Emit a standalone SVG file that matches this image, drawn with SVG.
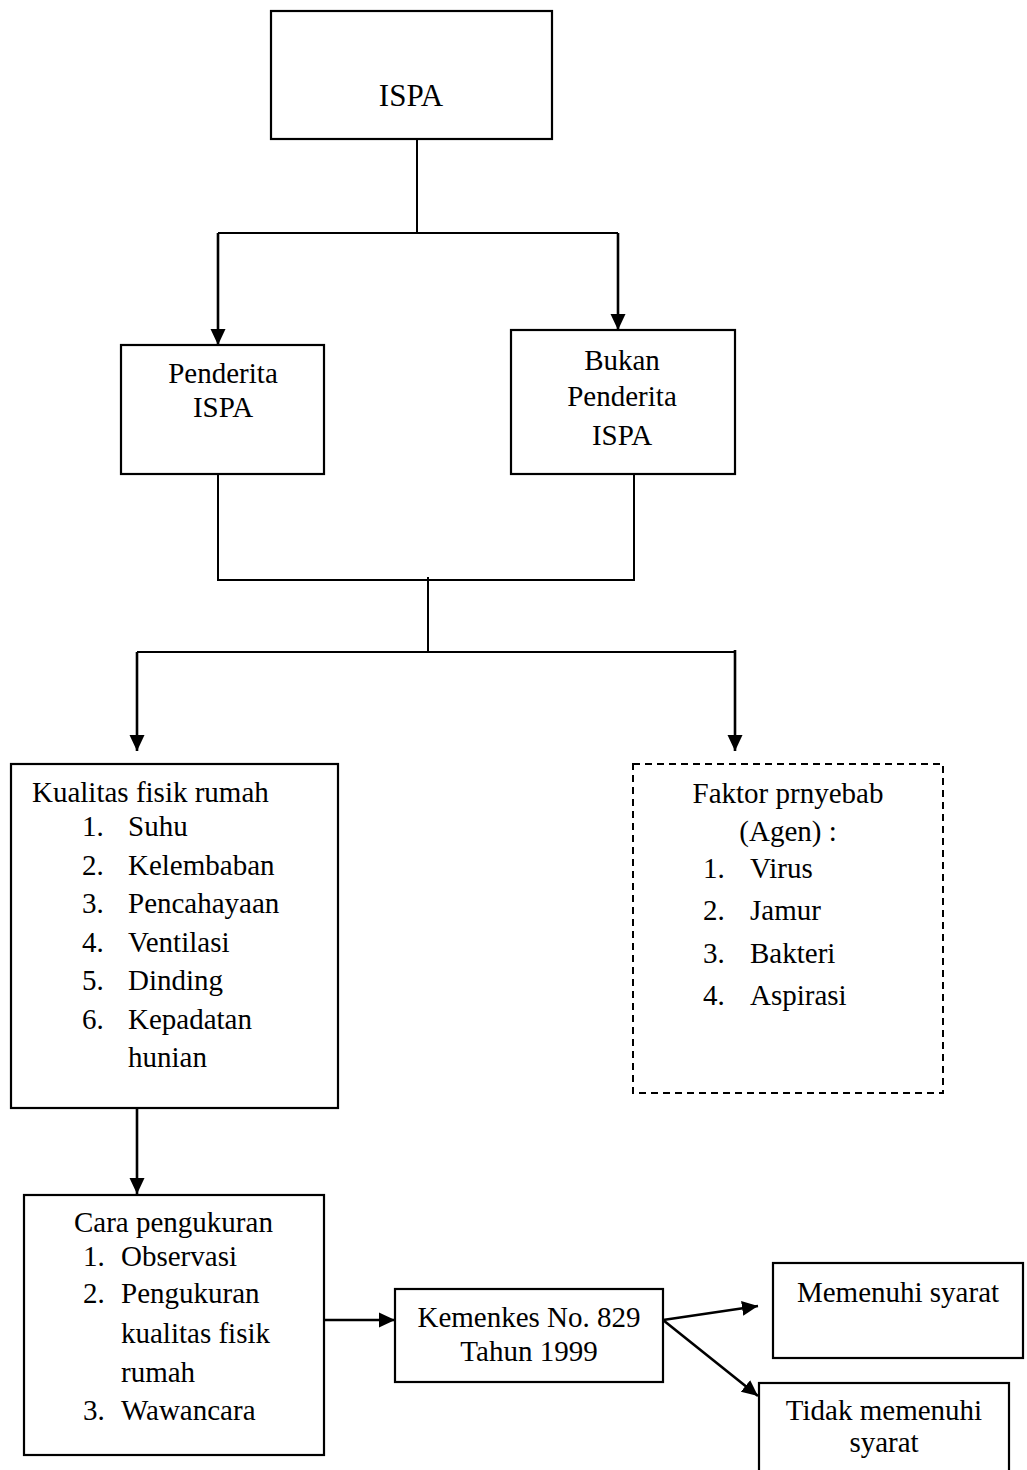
<svg xmlns="http://www.w3.org/2000/svg" width="1027" height="1470" viewBox="0 0 1027 1470">
<style>
  text { font-family: "Liberation Serif", "Times New Roman", serif; font-size: 29px; fill: #000; }
  .c { text-anchor: middle; }
  .box { fill: #fff; stroke: #000; stroke-width: 2.2; }
  .dash { fill: #fff; stroke: #000; stroke-width: 2; stroke-dasharray: 7 5; }
  .ln { fill: none; stroke: #000; stroke-width: 2; }
  .ar { fill: none; stroke: #000; stroke-width: 2.6; marker-end: url(#ah); }
</style>
<defs>
  <marker id="ah" markerUnits="userSpaceOnUse" markerWidth="18" markerHeight="18" viewBox="0 0 18 18" refX="16" refY="9" orient="auto">
    <path d="M0,1.5 L16,9 L0,16.5 Z" fill="#000"/>
  </marker>
</defs>
<rect width="1027" height="1470" fill="#fff"/>

<g id="connectors">
  <path class="ln" d="M417,139 V233 M218,233 H618"/>
  <path class="ar" d="M218,233 V345"/>
  <path class="ar" d="M618,233 V330"/>
  <path class="ln" d="M218,474 V580 H634 V474"/>
  <path class="ln" d="M428,577 V652 M137,652 H735"/>
  <path class="ar" d="M137,652 V751"/>
  <path class="ar" d="M735,650 V751"/>
  <path class="ar" d="M137,1108 V1194"/>
  <path class="ar" d="M324,1320 H395"/>
  <path class="ar" d="M663,1320 L758,1306"/>
  <path class="ar" d="M663,1320 L758,1396"/>
</g>

<g id="ispa">
  <rect class="box" x="271" y="11" width="281" height="128"/>
  <text class="c" x="411" y="106" style="font-size:31px">ISPA</text>
</g>

<g id="penderita">
  <rect class="box" x="121" y="345" width="203" height="129"/>
  <text class="c" x="223" y="383">Penderita</text>
  <text class="c" x="223" y="417">ISPA</text>
</g>

<g id="bukan-penderita">
  <rect class="box" x="511" y="330" width="224" height="144"/>
  <text class="c" x="622" y="370">Bukan</text>
  <text class="c" x="622" y="406">Penderita</text>
  <text class="c" x="622" y="445">ISPA</text>
</g>

<g id="kualitas">
  <rect class="box" x="11" y="764" width="327" height="344"/>
  <text x="32" y="802">Kualitas fisik rumah</text>
  <text x="82" y="836">1.</text><text x="128" y="836">Suhu</text>
  <text x="82" y="874.5">2.</text><text x="128" y="874.5">Kelembaban</text>
  <text x="82" y="913">3.</text><text x="128" y="913">Pencahayaan</text>
  <text x="82" y="951.5">4.</text><text x="128" y="951.5">Ventilasi</text>
  <text x="82" y="990">5.</text><text x="128" y="990">Dinding</text>
  <text x="82" y="1028.5">6.</text><text x="128" y="1028.5">Kepadatan</text>
  <text x="128" y="1067">hunian</text>
</g>

<g id="faktor">
  <rect class="dash" x="633" y="764" width="310" height="329"/>
  <text class="c" x="788" y="803">Faktor prnyebab</text>
  <text class="c" x="788" y="841">(Agen) :</text>
  <text x="703" y="878">1.</text><text x="750" y="878">Virus</text>
  <text x="703" y="920">2.</text><text x="750" y="920">Jamur</text>
  <text x="703" y="963">3.</text><text x="750" y="963">Bakteri</text>
  <text x="703" y="1005">4.</text><text x="750" y="1005">Aspirasi</text>
</g>

<g id="cara">
  <rect class="box" x="24" y="1195" width="300" height="260"/>
  <text x="74" y="1232">Cara pengukuran</text>
  <text x="83" y="1266">1.</text><text x="121" y="1266">Observasi</text>
  <text x="83" y="1303">2.</text><text x="121" y="1303">Pengukuran</text>
  <text x="121" y="1342.5">kualitas fisik</text>
  <text x="121" y="1381.5">rumah</text>
  <text x="83" y="1420">3.</text><text x="121" y="1420">Wawancara</text>
</g>

<g id="kemenkes">
  <rect class="box" x="395" y="1289" width="268" height="93"/>
  <text class="c" x="529" y="1327">Kemenkes No. 829</text>
  <text class="c" x="529" y="1361">Tahun 1999</text>
</g>

<g id="memenuhi">
  <rect class="box" x="773" y="1263" width="250" height="95"/>
  <text class="c" x="898" y="1302">Memenuhi syarat</text>
</g>

<g id="tidak-memenuhi">
  <rect class="box" x="759" y="1383" width="250" height="110"/>
  <text class="c" x="884" y="1420">Tidak memenuhi</text>
  <text class="c" x="884" y="1452">syarat</text>
</g>
</svg>
